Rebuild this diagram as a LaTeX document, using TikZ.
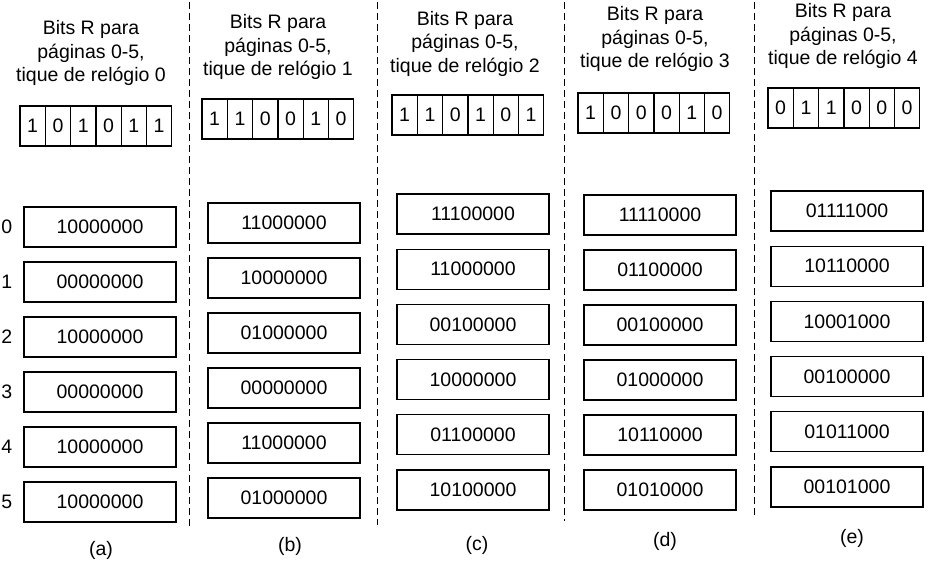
\documentclass[tikz,border=0pt]{standalone}
\usepackage{fontspec}
\setmainfont{Liberation Sans}
\usetikzlibrary{positioning}

\tikzset{
  txt/.style={font=\fontsize{19.5}{23.5}\selectfont, inner sep=0pt},
  title/.style={txt, align=center},
  bitcell/.style={txt, draw, line width=1.2pt, minimum width=25.3pt, minimum height=40pt},
  counter/.style={txt, draw, line width=1.2pt, minimum width=152pt, minimum height=40pt},
  sep/.style={line width=0.8pt, dash pattern=on 7pt off 4pt},
}

\begin{document}
\begin{tikzpicture}[x=1pt,y=-1pt]
  \useasboundingbox (0,0) rectangle (930,563);

  %column (a)
  \node[title] (ta) at (91,53) {Bits R para\\páginas 0-5,\\tique de relógio 0};
  \foreach \v [count=\i] in {1,0,1,0,1,1}
    \node[bitcell] (ba\i) at (7.35+25.3*\i,126) {\v};
  \foreach \v [count=\i from 0] in {10000000,00000000,10000000,00000000,10000000,10000000} {
    \node[counter] (ca\i) at (100,227+55*\i) {\v};
    \node[txt, left=11pt of ca\i] (la\i) {\i};
  }
  \node[txt] (capa) at (101,550) {(a)};

  %column (b)
  \node[title] (tb) at (278,47) {Bits R para\\páginas 0-5,\\tique de relógio 1};
  \foreach \v [count=\i] in {1,1,0,0,1,0}
    \node[bitcell] (bb\i) at (189.35+25.3*\i,119) {\v};
  \foreach \v [count=\i from 0] in {11000000,10000000,01000000,00000000,11000000,01000000}
    \node[counter] (cb\i) at (284,223+55*\i) {\v};
  \node[txt] (capb) at (290,546) {(b)};

  %column (c)
  \node[title] (tc) at (465,43.5) {Bits R para\\páginas 0-5,\\tique de relógio 2};
  \foreach \v [count=\i] in {1,1,0,1,0,1}
    \node[bitcell] (bc\i) at (379.35+25.3*\i,115) {\v};
  \foreach \v [count=\i from 0] in {11100000,11000000,00100000,10000000,01100000,10100000}
    \node[counter] (cc\i) at (473,214+55.2*\i) {\v};
  \node[txt] (capc) at (477,545) {(c)};

  %column (d)
  \node[title] (td) at (655,39) {Bits R para\\páginas 0-5,\\tique de relógio 3};
  \foreach \v [count=\i] in {1,0,0,0,1,0}
    \node[bitcell] (bd\i) at (565.35+25.3*\i,113) {\v};
  \foreach \v [count=\i from 0] in {11110000,01100000,00100000,01000000,10110000,01010000}
    \node[counter] (cd\i) at (660,215+55*\i) {\v};
  \node[txt] (capd) at (665,541) {(d)};

  %column (e)
  \node[title] (te) at (843,36) {Bits R para\\páginas 0-5,\\tique de relógio 4};
  \foreach \v [count=\i] in {0,1,1,0,0,0}
    \node[bitcell] (be\i) at (755.35+25.3*\i,108) {\v};
  \foreach \v [count=\i from 0] in {01111000,10110000,10001000,00100000,01011000,00101000}
    \node[counter] (ce\i) at (847,211+55.2*\i) {\v};
  \node[txt] (cape) at (852,538) {(e)};

  %dashed separators
  \draw[sep] (189,2) -- (189,528);
  \draw[sep] (377,2) -- (377,525);
  \draw[sep] (564,2) -- (564,521);
  \draw[sep] (754,2) -- (754,517);
\end{tikzpicture}
\end{document}
